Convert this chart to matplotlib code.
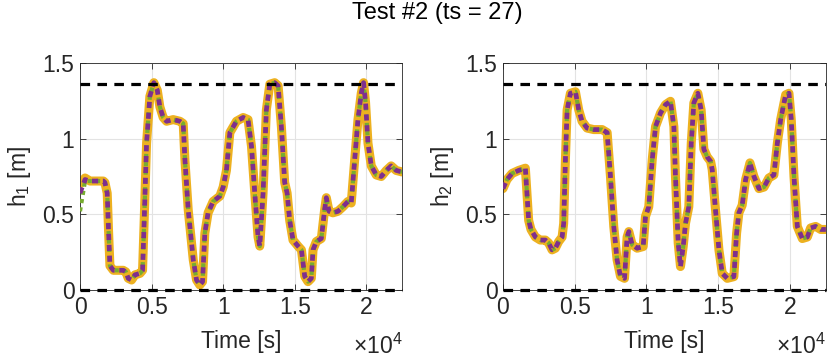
import matplotlib
matplotlib.use("Agg")
import matplotlib.pyplot as plt

plt.rcParams['font.family'] = ['Liberation Sans', 'DejaVu Sans']
plt.rcParams['mathtext.fontset'] = 'custom'
plt.rcParams['mathtext.rm'] = 'Liberation Sans'
plt.rcParams['mathtext.it'] = 'Liberation Sans'

# time [s] and levels [m]
t1 = [0, 350, 700, 1200, 1630, 1740, 1900, 1990, 2090, 2330, 2700, 3020, 3200, 3370, 3600,
      3840, 4190, 4370, 4470, 4650, 4880, 5160, 5400, 5580, 5810, 6050, 6510, 6980, 7210,
      7330, 7560, 7910, 8140, 8370, 8560, 8720, 8950, 9300, 9770, 10000, 10230, 10470,
      10930, 11400, 11740, 11980, 12210, 12440, 12560, 12790, 13020, 13260, 13600, 13840,
      14070, 14300, 14470, 14650, 14880, 15230, 15470, 15700, 15930, 16160, 16280, 16510,
      16860, 17090, 17210, 17400, 17670, 18020, 18370, 18720, 18950, 19190, 19420, 19650,
      19810, 19950, 20120, 20350, 20700, 21050, 21400, 21740, 22090, 22500]
h1 = [0.70, 0.74, 0.72, 0.72, 0.72, 0.71, 0.64, 0.40, 0.16, 0.13, 0.13, 0.13, 0.12, 0.077, 0.066,
      0.10, 0.11, 0.13, 0.42, 0.97, 1.28, 1.37, 1.32, 1.21, 1.14, 1.115, 1.126, 1.115, 1.10,
      0.86, 0.53, 0.20, 0.066, 0.033, 0.055, 0.375, 0.51, 0.585, 0.62, 0.68, 0.79, 1.04,
      1.115, 1.14, 1.126, 0.95, 0.64, 0.35, 0.29, 0.64, 1.19, 1.36, 1.37, 1.35,
      1.08, 0.71, 0.64, 0.46, 0.33, 0.29, 0.265, 0.09, 0.055, 0.077, 0.265, 0.32,
      0.34, 0.53, 0.61, 0.52, 0.51, 0.52, 0.55, 0.585, 0.575, 0.86, 1.126, 1.30,
      1.37, 1.24, 0.97, 0.82, 0.76, 0.75, 0.79, 0.82, 0.79, 0.78]

t2 = [0, 280, 630, 1090, 1560, 1670, 1790, 1950, 2260, 2600, 2950, 3190, 3420, 3650, 3880,
      4120, 4230, 4350, 4470, 4700, 5050, 5280, 5510, 5860, 6330, 6910, 7260, 7490, 7720,
      7950, 8190, 8470, 8650, 8770, 9000, 9350, 9770, 9930, 10160, 10400, 10630, 10980,
      11330, 11670, 11910, 12020, 12210, 12370, 12560, 12720, 12950, 13120, 13300, 13580,
      13810, 14000, 14230, 14470, 14580, 14810, 15050, 15280, 15630, 16090, 16280, 16440,
      16670, 16910, 17210, 17490, 17840, 18190, 18530, 18880, 19120, 19350, 19700, 19930,
      20090, 20280, 20510, 20860, 21210, 21440, 21790, 22140, 22500]
h2 = [0.67, 0.73, 0.77, 0.79, 0.805, 0.64, 0.46, 0.40, 0.35, 0.33, 0.33, 0.31, 0.265, 0.276, 0.32,
      0.35, 0.44, 0.86, 1.19, 1.30, 1.31, 1.19, 1.115, 1.07, 1.06, 1.06, 1.04, 0.75, 0.42,
      0.20, 0.09, 0.077, 0.35, 0.386, 0.30, 0.276, 0.287, 0.486, 0.55, 0.86, 1.08, 1.17,
      1.225, 1.247, 1.08, 0.75, 0.31, 0.155, 0.287, 0.44, 0.55, 0.97, 1.236, 1.30,
      1.19, 0.93, 0.88, 0.85, 0.795, 0.53, 0.265, 0.11, 0.077, 0.088, 0.375, 0.51,
      0.56, 0.73, 0.84, 0.75, 0.67, 0.68, 0.74, 0.76, 0.97, 1.126, 1.29, 1.30,
      1.126, 0.75, 0.42, 0.34, 0.35, 0.41, 0.42, 0.40, 0.40]

# start of the estimated series differs a little on tank 1
h1_green_start = [0.52, 0.72]
h1_purple_start = [0.64, 0.73]

h_min, h_max = 0.0, 1.36

ORANGE = '#EDB120'
GREEN = '#77AC30'
PURPLE = '#7E2F8E'
TXT = '#262626'
FS = 16.5

fig = plt.figure(figsize=(8.3, 3.58), dpi=100)
fig.text(0.527, 0.965, 'Test #2 (ts = 27)', ha='center', va='center', fontsize=17, color='black')

axes = [fig.add_axes([0.0964, 0.19, 0.388, 0.634]),
        fig.add_axes([0.606, 0.19, 0.389, 0.634])]
panels = [(t1, h1, h1_green_start, h1_purple_start, 'h$_1$ [m]'),
          (t2, h2, None, None, 'h$_2$ [m]')]

for ax, (t, h, g0, p0, ylab) in zip(axes, panels):
    ax.plot(t, h, color=ORANGE, lw=6.5, solid_capstyle='round', solid_joinstyle='round', zorder=2)
    hg = list(h) if g0 is None else g0 + list(h[len(g0):])
    hp = list(h) if p0 is None else p0 + list(h[len(p0):])
    ax.plot(t, hg, color=GREEN, lw=3, linestyle=(0, (1, 1)), zorder=3)
    ax.plot(t, hp, color=PURPLE, lw=3.4, linestyle=(0, (1.3, 1.0)), zorder=4)
    ax.axhline(h_min, color='black', lw=2.3, linestyle=(0, (3, 2.3)), zorder=5, clip_on=False)
    ax.axhline(h_max, color='black', lw=2.3, linestyle=(0, (3, 2.3)), zorder=5)

    ax.set_xlim(0, 22500)
    ax.set_ylim(0, 1.5)
    ax.set_xticks([0, 5000, 10000, 15000, 20000])
    ax.set_xticklabels(['0', '0.5', '1', '1.5', '2'])
    ax.set_yticks([0, 0.5, 1, 1.5])
    ax.set_yticklabels(['0', '0.5', '1', '1.5'])
    ax.grid(True, color='#e3e3e3', lw=0.8)
    ax.set_axisbelow(True)
    ax.tick_params(direction='in', length=4, width=0.6, colors=TXT, labelsize=FS,
                   top=True, right=True, pad=4)
    for s in ax.spines.values():
        s.set_color(TXT)
        s.set_linewidth(0.6)
    ax.set_xlabel('Time [s]', fontsize=FS, color=TXT, labelpad=8)
    ax.set_ylabel(ylab, fontsize=FS, color=TXT, labelpad=7)

# x10^4 exponent under each axis' right end
for ax in axes:
    x_right = ax.get_position().x1
    fig.text(x_right, 0.012, r'$\times10^4$', ha='right', va='baseline', fontsize=FS, color=TXT)

fig.savefig('out.png', dpi=100)
plt.close(fig)
